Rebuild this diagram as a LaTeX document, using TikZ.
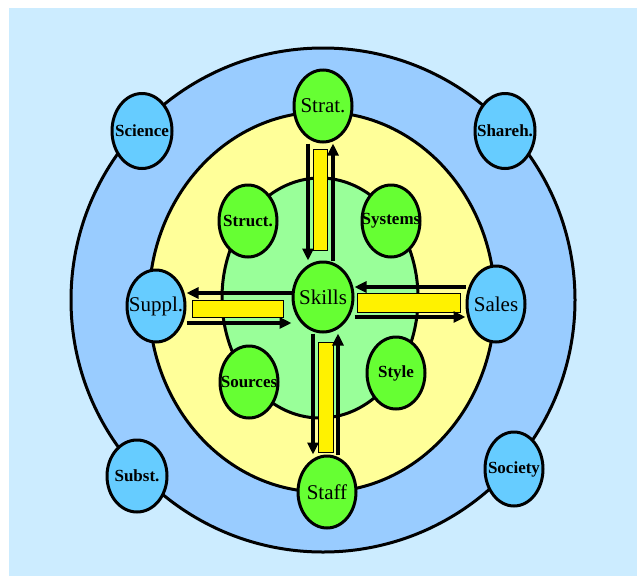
\documentclass[tikz,border=0pt]{standalone}
\usepackage{fontspec}
\setmainfont{Liberation Serif}
\usetikzlibrary{shapes.geometric,arrows.meta}

\definecolor{bgblue}{HTML}{CCECFF}
\definecolor{ringblue}{HTML}{99CCFF}
\definecolor{paleyellow}{HTML}{FFFF99}
\definecolor{palegreen}{HTML}{99FF99}
\definecolor{nodegreen}{HTML}{66FF33}
\definecolor{nodeblue}{HTML}{66CCFF}

\newcommand{\bigfont}{\fontsize{21}{21}\selectfont}
\newcommand{\smallfont}{\fontsize{17}{17}\selectfont\bfseries}
\newcommand{\lbl}[1]{\makebox[0pt]{#1}}

\tikzset{
  ring/.style={draw, line width=3pt},
  blob/.style={ellipse, draw, line width=3pt, inner sep=0pt,
    minimum width=58pt, minimum height=72pt},
  keynode/.style={blob, fill=nodegreen, font=\bigfont},
  linknode/.style={blob, fill=nodeblue, font=\bigfont},
  innernode/.style={blob, fill=nodegreen, font=\smallfont},
  outernode/.style={blob, fill=nodeblue, font=\smallfont, minimum width=60pt, minimum height=75pt},
  flow/.style={line width=3.5pt, -{Triangle[length=12pt,width=11pt]}},
  bar/.style={fill=yellow, draw=black, line width=0.8pt}
}

\begin{document}
\begin{tikzpicture}[x=1pt,y=-1pt]
\useasboundingbox (0,0) rectangle (637,576);
\fill[bgblue] (9,8) rectangle (637,576);

% rings
\filldraw[ring, fill=ringblue] (323,300) circle (252);
\filldraw[ring, fill=paleyellow] (322,302) ellipse (173 and 190);
\filldraw[ring, fill=palegreen] (320,298) ellipse (98 and 120);

% outer ring
\node[outernode] (science) at (142,131) {\lbl{Science}};
\node[outernode] (shareh) at (505,131) {\lbl{Shareh.}};
\node[outernode, minimum height=72pt] (subst) at (137,476) {\lbl{Subst.}};
\node[outernode, minimum width=58pt, minimum height=74pt] (society) at (514,469) {\lbl{Society}};

% middle ring
\node[keynode] (strat) at (323,106) {\lbl{Strat.}};
\node[keynode] (staff) at (327,492) {\lbl{Staff}};
\node[linknode] (suppl) at (156,306) {\lbl{Suppl.}};
\node[linknode, minimum height=76pt] (sales) at (496,304) {\lbl{Sales}};

% inner ring
\node[innernode] (struct) at (248,221) {\lbl{Struct.}};
\node[innernode] (systems) at (391,221) {\lbl{Systems}};
\node[innernode] (sources) at (249,382) {\lbl{Sources}};
\node[innernode] (style) at (396,373) {\lbl{Style}};
\node[keynode, minimum width=60pt, minimum height=70pt] (skills) at (323,297) {\lbl{Skills}};

% bars
\draw[bar] (313,149) rectangle (327,250);
\draw[bar] (318,342) rectangle (333,452);
\draw[bar] (192,300) rectangle (283,317);
\draw[bar] (357,293) rectangle (460,312);

% arrows
\draw[flow] ([xshift=-15pt]strat.south) -- ([xshift=-15pt]strat.south |- skills.north);
\draw[flow] ([xshift=10pt]skills.north) -- ([xshift=10pt]skills.north |- strat.south);
\draw[flow] ([xshift=-10pt]skills.south) -- ([xshift=-10pt]skills.south |- staff.north);
\draw[flow] ([xshift=11pt]staff.north) -- ([xshift=11pt]staff.north |- skills.south);
\draw[flow] ([yshift=4pt]skills.west) -- ([yshift=4pt]skills.west -| suppl.east);
\draw[flow] ([yshift=-17pt]suppl.east) -- ([yshift=-17pt]suppl.east -| skills.west);
\draw[flow] ([yshift=17pt]sales.west) -- ([yshift=17pt]sales.west -| skills.east);
\draw[flow] ([yshift=-20pt]skills.east) -- ([yshift=-20pt]skills.east -| sales.west);
\end{tikzpicture}
\end{document}
